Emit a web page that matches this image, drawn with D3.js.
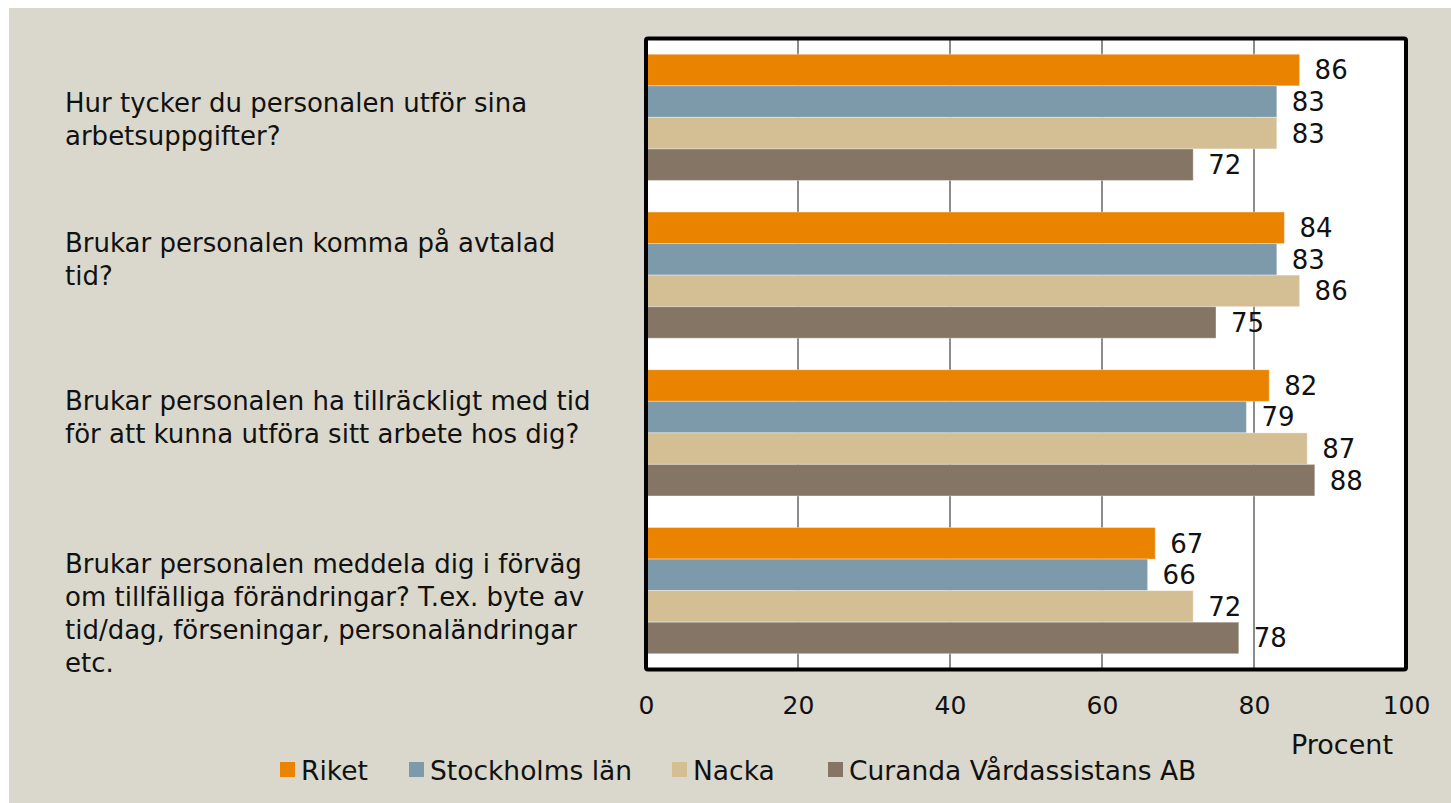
<!DOCTYPE html>
<html>
<head>
<meta charset="UTF-8">
<script src="https://cdnjs.cloudflare.com/ajax/libs/d3/7.8.5/d3.min.js"></script>
<style>
  html, body { margin: 0; padding: 0; background: #fff; }
  svg { display: block; }
  text { font-family: "DejaVu Sans", sans-serif; fill: #111; }
</style>
</head>
<body>
<svg id="chart"></svg>
<script>
// categories (questions), one entry per wrapped line
var categories = [
  ["Hur tycker du personalen utför sina", "arbetsuppgifter?"],
  ["Brukar personalen komma på avtalad", "tid?"],
  ["Brukar personalen ha tillräckligt med tid", "för att kunna utföra sitt arbete hos dig?"],
  ["Brukar personalen meddela dig i förväg", "om tillfälliga förändringar? T.ex. byte av", "tid/dag, förseningar, personaländringar", "etc."]
];
var seriesNames = ["Riket", "Stockholms län", "Nacka", "Curanda Vårdassistans AB"];
var riket      = [86, 84, 82, 67];
var stockholm  = [83, 83, 79, 66];
var nacka      = [83, 86, 87, 72];
var curanda    = [72, 75, 88, 78];
var seriesValues = [riket, stockholm, nacka, curanda];
var colors = ["#e98300", "#7d9aab", "#d4bf95", "#857565"];
var ticks = [0, 20, 40, 60, 80, 100];
var axisTitle = "Procent";

var width = 1451, height = 803;
var plot = { left: 646, right: 1406, top: 38.5, bottom: 669.5 };

var svg = d3.select("#chart").attr("width", width).attr("height", height);

// background panel
svg.append("rect").attr("x", 9).attr("y", 8).attr("width", width - 9).attr("height", height - 8)
  .attr("fill", "#dad8cc");

// plot area
svg.append("rect").attr("x", plot.left).attr("y", plot.top)
  .attr("width", plot.right - plot.left).attr("height", plot.bottom - plot.top)
  .attr("fill", "#fff");

var x = d3.scaleLinear().domain([0, 100]).range([plot.left, plot.right]);
var y0 = d3.scaleBand().domain(d3.range(categories.length))
  .range([plot.top, plot.bottom]).paddingInner(0.2).paddingOuter(0.1);
var y1 = d3.scaleBand().domain(d3.range(seriesNames.length)).range([0, y0.bandwidth()]);

// gridlines
svg.append("g").selectAll("line").data(ticks.slice(1, -1)).enter().append("line")
  .attr("x1", function(d) { return x(d); }).attr("x2", function(d) { return x(d); })
  .attr("y1", plot.top).attr("y2", plot.bottom)
  .attr("stroke", "#8c8c8c").attr("stroke-width", 2);

// bars
var groups = svg.append("g").selectAll("g").data(categories).enter().append("g")
  .attr("transform", function(d, i) { return "translate(0," + y0(i) + ")"; });

groups.each(function(cat, ci) {
  var g = d3.select(this);
  var rows = seriesValues.map(function(vals, si) { return { s: si, v: vals[ci] }; });
  g.selectAll("rect").data(rows).enter().append("rect")
    .attr("x", x(0))
    .attr("y", function(d) { return y1(d.s); })
    .attr("width", function(d) { return x(d.v) - x(0); })
    .attr("height", y1.bandwidth())
    .attr("fill", function(d) { return colors[d.s]; })
    .attr("stroke", "rgba(255,255,255,0.35)").attr("stroke-width", 1);
  g.selectAll("text").data(rows).enter().append("text")
    .attr("x", function(d) { return x(d.v) + 15; })
    .attr("y", function(d) { return y1(d.s) + y1.bandwidth() / 2; })
    .attr("dy", "0.36em")
    .style("font-size", "26px")
    .text(function(d) { return d.v; });
});

// plot border
svg.append("rect").attr("x", plot.left).attr("y", plot.top)
  .attr("width", plot.right - plot.left).attr("height", plot.bottom - plot.top)
  .attr("fill", "none").attr("stroke", "#000").attr("stroke-width", 4)
  .attr("rx", 2);

// x axis (tick labels only)
var xAxis = d3.axisBottom(x).tickValues(ticks).tickSize(0).tickPadding(0);
var ax = svg.append("g").attr("transform", "translate(0," + 696 + ")").call(xAxis);
ax.select(".domain").remove();
ax.selectAll("text").attr("dy", "0.71em").style("font-size", "25px")
  .style("font-family", "DejaVu Sans").attr("fill", "#111");

svg.append("text").attr("x", 1342).attr("y", 754).attr("text-anchor", "middle")
  .style("font-size", "27px").text(axisTitle);

// category labels
var labelShift = [2, -16, -16, 23];
var lineH = 33;
svg.append("g").selectAll("text").data(categories).enter().append("text")
  .attr("x", 65)
  .attr("y", function(d, i) {
    return y0(i) + y0.bandwidth() / 2 + labelShift[i] - (d.length - 1) * lineH / 2;
  })
  .style("font-size", "26px")
  .each(function(d) {
    var t = d3.select(this);
    d.forEach(function(line, li) {
      t.append("tspan").attr("x", 65).attr("dy", li === 0 ? "0.36em" : lineH + "px").text(line);
    });
  });

// legend
var legendX = [280, 409, 672, 828];
var legend = svg.append("g").selectAll("g").data(seriesNames).enter().append("g")
  .attr("transform", function(d, i) { return "translate(" + legendX[i] + ",762)"; });
legend.append("rect").attr("width", 15).attr("height", 15)
  .attr("fill", function(d, i) { return colors[i]; });
legend.append("text").attr("x", 21).attr("y", 8).attr("dy", "0.36em")
  .style("font-size", "26.5px").text(function(d) { return d; });
</script>
</body>
</html>
